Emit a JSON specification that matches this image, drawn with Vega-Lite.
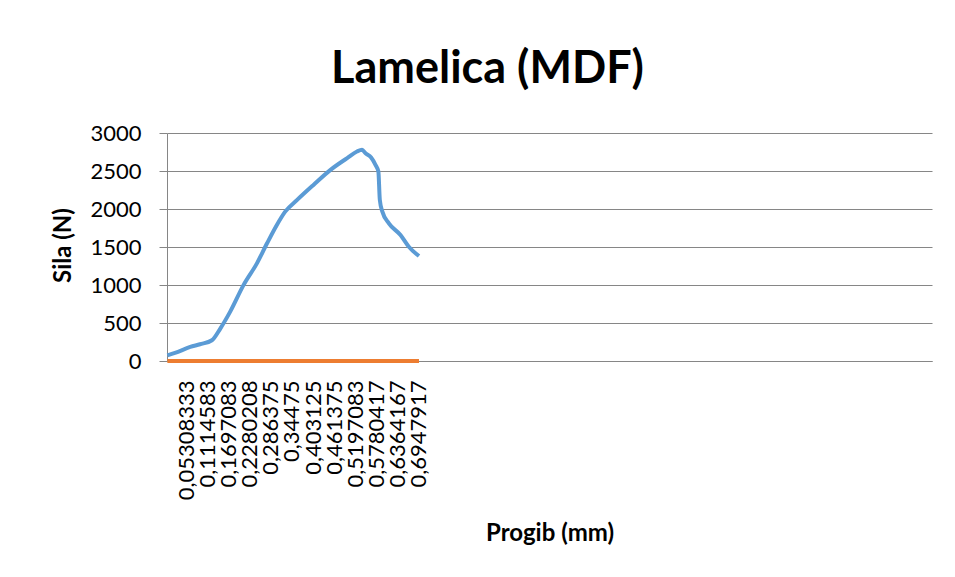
{
  "$schema": "https://vega.github.io/schema/vega-lite/v6.json",
  "width": 765,
  "height": 228,
  "autosize": {"type": "none"},
  "padding": {"left": 167, "top": 133, "right": 23, "bottom": 216},
  "background": "white",
  "config": {"view": {"stroke": null}, "font": "Lato"},
  "title": {
    "text": "Lamelica (MDF)",
    "font": "Lato",
    "fontSize": 45,
    "fontWeight": "bold",
    "color": "#000000",
    "anchor": "middle",
    "frame": "group",
    "dx": -62,
    "offset": 30
  },
  "data": {
    "values": [
      {"progib": 0.001, "sila": 75, "serija": "Serija1"},
      {"progib": 0.022, "sila": 106, "serija": "Serija1"},
      {"progib": 0.064, "sila": 185, "serija": "Serija1"},
      {"progib": 0.091, "sila": 220, "serija": "Serija1"},
      {"progib": 0.124, "sila": 273, "serija": "Serija1"},
      {"progib": 0.147, "sila": 427, "serija": "Serija1"},
      {"progib": 0.174, "sila": 646, "serija": "Serija1"},
      {"progib": 0.211, "sila": 998, "serija": "Serija1"},
      {"progib": 0.248, "sila": 1285, "serija": "Serija1"},
      {"progib": 0.276, "sila": 1549, "serija": "Serija1"},
      {"progib": 0.303, "sila": 1790, "serija": "Serija1"},
      {"progib": 0.326, "sila": 1965, "serija": "Serija1"},
      {"progib": 0.359, "sila": 2120, "serija": "Serija1"},
      {"progib": 0.404, "sila": 2317, "serija": "Serija1"},
      {"progib": 0.451, "sila": 2515, "serija": "Serija1"},
      {"progib": 0.497, "sila": 2670, "serija": "Serija1"},
      {"progib": 0.524, "sila": 2757, "serija": "Serija1"},
      {"progib": 0.538, "sila": 2779, "serija": "Serija1"},
      {"progib": 0.547, "sila": 2736, "serija": "Serija1"},
      {"progib": 0.563, "sila": 2678, "serija": "Serija1"},
      {"progib": 0.575, "sila": 2581, "serija": "Serija1"},
      {"progib": 0.583, "sila": 2493, "serija": "Serija1"},
      {"progib": 0.587, "sila": 2120, "serija": "Serija1"},
      {"progib": 0.594, "sila": 1965, "serija": "Serija1"},
      {"progib": 0.612, "sila": 1812, "serija": "Serija1"},
      {"progib": 0.644, "sila": 1658, "serija": "Serija1"},
      {"progib": 0.667, "sila": 1504, "serija": "Serija1"},
      {"progib": 0.695, "sila": 1381, "serija": "Serija1"},
      {"progib": 0.001, "sila": 0, "serija": "Serija2"},
      {"progib": 0.695, "sila": 0, "serija": "Serija2"}
    ]
  },
  "mark": {"type": "line", "strokeWidth": 4, "interpolate": "monotone"},
  "encoding": {
    "x": {
      "field": "progib",
      "type": "quantitative",
      "scale": {"domain": [0, 2.11], "nice": false, "zero": false},
      "axis": {
        "values": [0.05308333, 0.1114583, 0.1697083, 0.2280208, 0.286375, 0.34475, 0.403125, 0.461375, 0.5197083, 0.5780417, 0.6364167, 0.6947917],
        "labelExpr": "replace(format(datum.value, '.7'), '.', ',')",
        "labelAngle": 270,
        "labelAlign": "right",
        "labelBaseline": "middle",
        "labelPadding": 19,
        "labelFont": "Lato",
        "labelFontSize": 22,
        "labelColor": "#000000",
        "labelOverlap": false,
        "labelFlush": false,
        "labelBound": false,
        "tickSize": 0,
        "ticks": false,
        "grid": false,
        "domainColor": "#868686",
        "domainWidth": 1,
        "title": "Progib (mm)",
        "titleFont": "Lato",
        "titleFontSize": 24,
        "titleFontWeight": "bold",
        "titleColor": "#000000",
        "titleY": 179,
        "titleBaseline": "alphabetic"
      }
    },
    "y": {
      "field": "sila",
      "type": "quantitative",
      "scale": {"domain": [0, 3000], "nice": false},
      "axis": {
        "values": [0, 500, 1000, 1500, 2000, 2500, 3000],
        "format": "d",
        "tickSize": 8,
        "tickColor": "#868686",
        "labelPadding": 18,
        "labelFont": "Lato",
        "labelFontSize": 22,
        "labelColor": "#000000",
        "grid": true,
        "gridColor": "#868686",
        "gridWidth": 1,
        "domainColor": "#868686",
        "title": "Sila (N)",
        "titleFont": "Lato",
        "titleFontSize": 24,
        "titleFontWeight": "bold",
        "titleColor": "#000000",
        "titleX": -104,
        "titleY": 112,
        "titleAngle": 270,
        "titleAlign": "center",
        "titleBaseline": "middle"
      }
    },
    "color": {
      "field": "serija",
      "type": "nominal",
      "scale": {"domain": ["Serija1", "Serija2"], "range": ["#5B9BD5", "#ED7D31"]},
      "legend": null
    }
  }
}
